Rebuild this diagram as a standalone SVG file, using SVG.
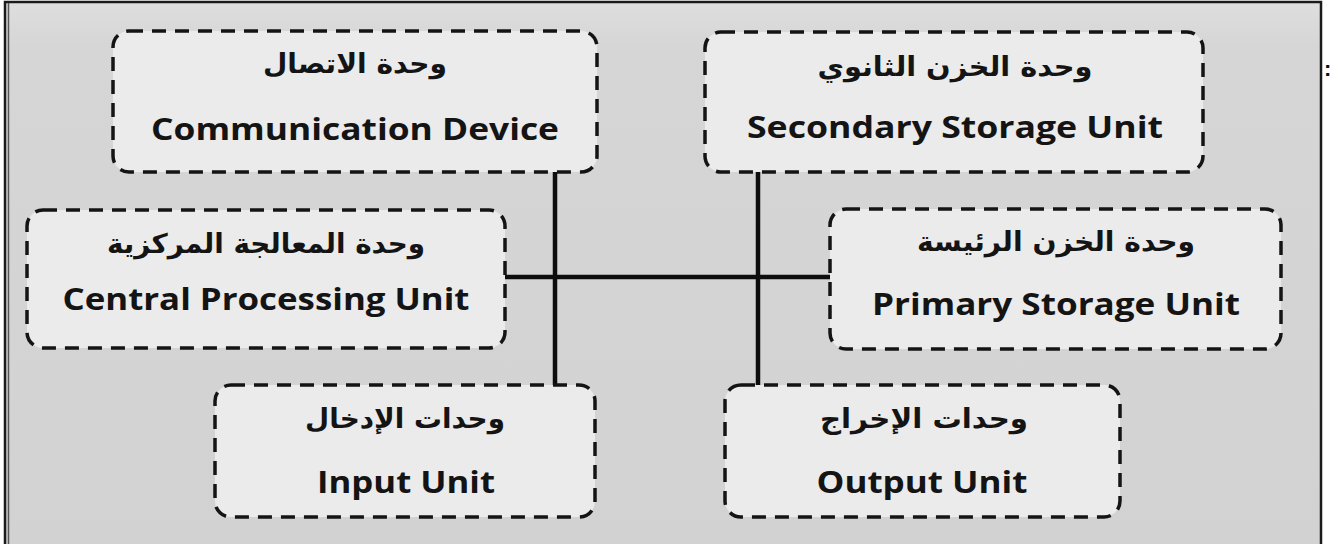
<svg xmlns="http://www.w3.org/2000/svg" width="1330" height="544" viewBox="0 0 1330 544">
  <defs>
    <linearGradient id="bg" x1="0" y1="0" x2="0" y2="1">
      <stop offset="0" stop-color="#dedede"/>
      <stop offset="0.08" stop-color="#d6d6d6"/>
      <stop offset="1" stop-color="#d2d2d2"/>
    </linearGradient>
    <style>
      .box { fill: #ebebeb; stroke: #141414; stroke-width: 3.5; stroke-dasharray: 14 9; }
      .en { font-family: "Open Sans", "Liberation Sans", sans-serif; font-weight: 700; font-size: 30px; fill: #141414; text-anchor: middle; }
      .ar { font-family: "DejaVu Sans", sans-serif; font-weight: 700; font-size: 27px; fill: #141414; text-anchor: middle; direction: rtl; }
      .wire { stroke: #0d0d0d; stroke-width: 4.5; fill: none; }
      .frame { stroke: #1a1a1a; stroke-width: 2.5; fill: none; }
    </style>
  </defs>

  <!-- page -->
  <rect x="0" y="0" width="1330" height="544" fill="#ffffff"/>
  <rect x="6" y="2" width="1315" height="542" fill="url(#bg)"/>
  <path class="frame" d="M5 544 V2 H1321 V544"/>
  <line x1="8.5" y1="3" x2="8.5" y2="544" stroke="#555" stroke-width="1.5"/>
  <text x="1324" y="76" font-family="Liberation Sans, sans-serif" font-size="22" font-weight="700" fill="#111">:</text>

  <!-- bus connectors -->
  <g id="connectors">
    <line class="wire" x1="555" y1="172" x2="555" y2="385"/>
    <line class="wire" x1="758" y1="172" x2="758" y2="385"/>
    <line class="wire" x1="505" y1="277" x2="830" y2="277"/>
  </g>

  <g id="communication">
    <rect class="box" x="113" y="31" width="484" height="141" rx="16"/>
    <text class="ar" x="355" y="73" textLength="184" lengthAdjust="spacingAndGlyphs">وحدة الاتصال</text>
    <text class="en" x="355" y="140" textLength="408" lengthAdjust="spacingAndGlyphs">Communication Device</text>
  </g>

  <g id="secondary-storage">
    <rect class="box" x="705" y="32" width="498" height="140" rx="16"/>
    <text class="ar" x="955" y="76" textLength="275" lengthAdjust="spacingAndGlyphs">وحدة الخزن الثانوي</text>
    <text class="en" x="955" y="138" textLength="416" lengthAdjust="spacingAndGlyphs">Secondary Storage Unit</text>
  </g>

  <g id="cpu">
    <rect class="box" x="27" y="210" width="478" height="138" rx="16"/>
    <text class="ar" x="266" y="253" textLength="318" lengthAdjust="spacingAndGlyphs">وحدة المعالجة المركزية</text>
    <text class="en" x="266" y="310" textLength="407" lengthAdjust="spacingAndGlyphs">Central Processing Unit</text>
  </g>

  <g id="primary-storage">
    <rect class="box" x="830" y="209" width="451" height="140" rx="16"/>
    <text class="ar" x="1056" y="251" textLength="278" lengthAdjust="spacingAndGlyphs">وحدة الخزن الرئيسة</text>
    <text class="en" x="1056" y="315" textLength="368" lengthAdjust="spacingAndGlyphs">Primary Storage Unit</text>
  </g>

  <g id="input">
    <rect class="box" x="215" y="385" width="380" height="132" rx="16"/>
    <text class="ar" x="405" y="428" textLength="200" lengthAdjust="spacingAndGlyphs">وحدات الإدخال</text>
    <text class="en" x="406" y="493" textLength="178" lengthAdjust="spacingAndGlyphs">Input Unit</text>
  </g>

  <g id="output">
    <rect class="box" x="725" y="385" width="395" height="132" rx="16"/>
    <text class="ar" x="924" y="428" textLength="208" lengthAdjust="spacingAndGlyphs">وحدات الإخراج</text>
    <text class="en" x="922" y="493" textLength="211" lengthAdjust="spacingAndGlyphs">Output Unit</text>
  </g>
</svg>
